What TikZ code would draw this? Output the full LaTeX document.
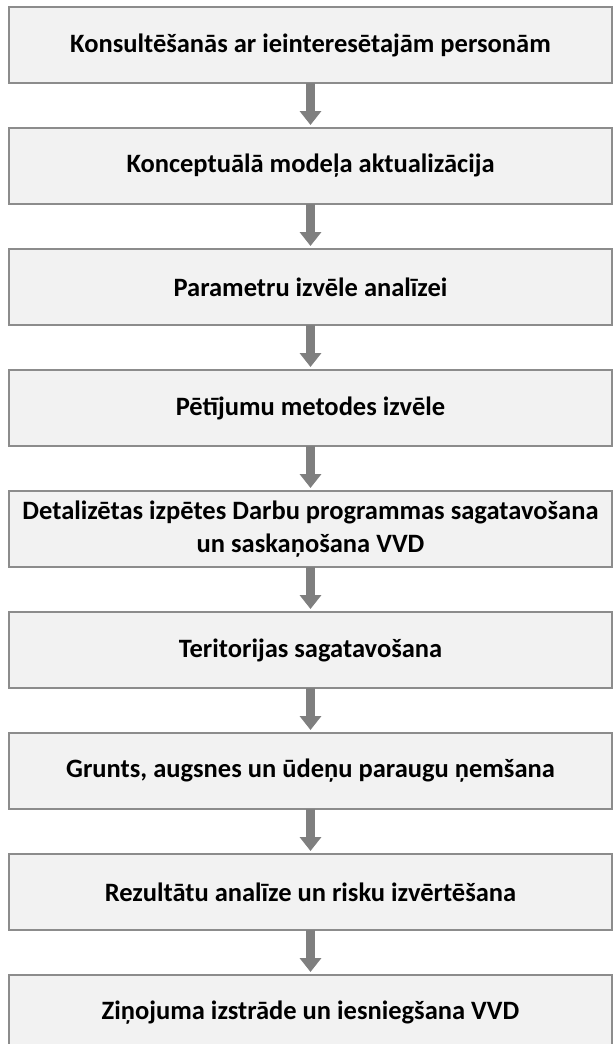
\documentclass[tikz,border=0pt]{standalone}
\usepackage{fontspec}
\setmainfont{Carlito}
\usetikzlibrary{arrows.meta,positioning}
\definecolor{boxfill}{HTML}{F2F2F2}
\definecolor{boxline}{HTML}{8C8C8C}
\definecolor{flowgray}{HTML}{7F7F7F}
\begin{document}
\begin{tikzpicture}[node distance=45bp, every node/.style={font=\fontsize{26.5bp}{33bp}\selectfont\bfseries},
    box/.style={draw=boxline, line width=2bp, fill=boxfill, minimum width=603bp, minimum height=76bp,
      inner sep=0pt, outer sep=0pt, align=center},
    flow/.style={draw=flowgray, line width=9bp, shorten >=3bp, -{Triangle[width=21bp,length=14bp]}}]
\useasboundingbox (0,0) rectangle (614bp,-1044bp);
\node[box, anchor=north west] (konsult) at (9bp,-7bp) {Konsultēšanās ar ieinteresētajām personām};
\node[box, below=of konsult]   (modelis)   {Konceptuālā modeļa aktualizācija};
\node[box, below=of modelis]   (param)     {Parametru izvēle analīzei};
\node[box, below=of param]     (metodes)   {Pētījumu metodes izvēle};
\node[box, below=of metodes]   (programma) {Detalizētas izpētes Darbu programmas sagatavošana\\un saskaņošana VVD};
\node[box, below=of programma] (terit)     {Teritorijas sagatavošana};
\node[box, below=of terit]     (paraugi)   {Grunts, augsnes un ūdeņu paraugu ņemšana};
\node[box, below=of paraugi]   (analize)   {Rezultātu analīze un risku izvērtēšana};
\node[box, below=of analize]   (zinojums)  {Ziņojuma izstrāde un iesniegšana VVD};
\draw[flow] (konsult)   -- (modelis);
\draw[flow] (modelis)   -- (param);
\draw[flow] (param)     -- (metodes);
\draw[flow] (metodes)   -- (programma);
\draw[flow] (programma) -- (terit);
\draw[flow] (terit)     -- (paraugi);
\draw[flow] (paraugi)   -- (analize);
\draw[flow] (analize)   -- (zinojums);
\end{tikzpicture}
\end{document}
